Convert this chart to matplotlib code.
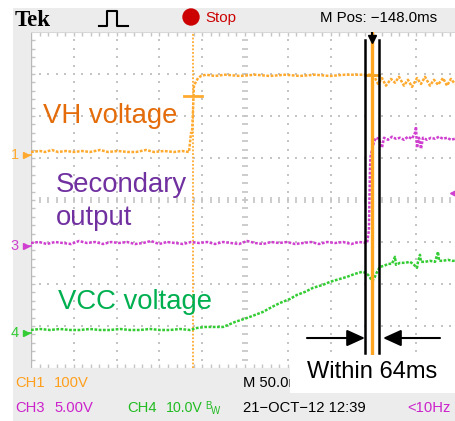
import numpy as np
import matplotlib.pyplot as plt
from matplotlib.patches import Rectangle, Ellipse
from matplotlib.lines import Line2D

W, H = 455, 421

# time in ms from left edge of screen (M 50.0ms / div)
ch1_t = [0, 10.5, 16.4, 24.5, 31.5, 40.9, 50.2, 59.6, 68.9, 80.6,
         90.0, 101.6, 113.3, 122.7, 134.3, 143.7, 155.4, 167.1, 176.4, 184.6,
         185.7, 186.9, 188.1, 189.3, 190.4, 192.8, 195.1, 198.6, 204.4, 214.9,
         226.6, 244.2, 261.7, 279.2, 296.7, 314.2, 331.8, 349.3, 366.8, 384.3,
         396.0, 400.7, 405.4, 410.0, 414.7, 420.6, 425.2, 429.9, 435.7, 440.4,
         445.1, 450.9, 455.6, 460.3, 466.1, 470.8, 475.5, 481.3, 486.0, 490.6,
         495.3]
# VH voltage (V), CH1 100V/div
ch1_v = [0, 2.4, 0, 4.8, 0, 2.4, 0, 2.4, 0, 4.8,
         0, 2.4, 0, 0, 4.8, 0, 2.4, 0, 2.4, 0,
         21.5, 45.4, 45.4, 100, 160, 167, 176, 181, 184, 181,
         184, 181, 184, 181, 184, 181, 184, 181, 184, 184,
         184, 181, 162, 176, 158, 174, 165, 179, 158, 172,
         155, 176, 162, 179, 158, 172, 160, 176, 158, 174,
         162]

ch3_t = [0, 9.3, 18.7, 28.0, 37.4, 46.7, 56.1, 65.4, 74.8, 84.1,
         93.5, 102.8, 112.2, 121.5, 130.9, 140.2, 149.6, 158.9, 168.3, 177.6,
         187.0, 196.3, 205.7, 215.0, 224.4, 233.7, 243.1, 252.4, 261.8, 271.1,
         280.5, 289.8, 299.2, 308.5, 317.9, 327.2, 336.6, 345.9, 355.3, 364.6,
         374.0, 383.3, 392.7,
         394.8, 395.4, 396.0, 396.6, 398.4, 400.7, 403.0, 406.5, 410.0, 412.4,
         417.1, 421.7, 426.4, 431.1, 435.7, 440.4, 445.1, 448.6, 449.8, 450.9,
         453.3, 455.6, 457.9, 462.6, 467.3, 472.0, 476.6, 481.3, 486.0, 490.6,
         495.3]
# secondary output (V), CH3 5.00V/div
ch3_v = [0, 0.12, -0.12, 0.12, 0, -0.12, 0.24, 0, 0.12, -0.12,
         0.12, 0, 0.12, -0.12, 0, 0.24, -0.12, 0.12, 0, -0.12,
         0.12, 0, 0.12, -0.12, 0.12, 0, -0.12, 0.24, 0, -0.12,
         0.12, 0, 0.12, -0.12, 0, 0.12, -0.12, 0.12, 0, 0.12,
         -0.12, 0.12, 0,
         1.55, 5.13, 8.71, 10.26, 11.1, 12.05, 12.53, 12.41, 11.33, 12.53,
         12.29, 12.65, 12.41, 12.53, 12.29, 12.65, 12.41, 13.12, 13.84, 11.33,
         12.53, 11.21, 12.53, 12.29, 12.53, 12.41, 12.65, 12.41, 12.53, 12.29,
         12.41]

ch4_t = [0, 10.5, 22.2, 33.9, 45.6, 57.2, 68.9, 80.6, 92.3, 104.0,
         115.7, 127.3, 139.0, 150.7, 162.4, 174.1, 185.7, 193.9, 203.3, 214.9,
         224.3, 230.1, 238.3, 252.3, 261.7, 271.0, 281.5, 290.9, 302.6, 310.7,
         320.1, 329.4, 341.0, 349.3, 361.0, 369.1, 378.5, 386.7, 391.3, 394.8,
         398.4, 400.7, 404.2, 407.7, 412.4, 417.1, 421.7, 425.2, 426.4, 431.1,
         436.9, 442.7, 446.3, 450.9, 452.1, 454.4, 455.6, 460.3, 466.1, 472.0,
         475.5, 476.6, 481.3, 487.2, 491.8, 495.3]
# VCC voltage (V), CH4 10.0V/div
ch4_v = [0, 0.24, 0, 0.24, 0, 0, 0.24, 0, 0, 0.24,
         0, 0, 0.24, 0, 0, 0.24, 0, 0.48, 0.72, 0.72,
         0.72, 1.19, 1.91, 2.86, 3.58, 4.30, 5.49, 6.44, 7.40, 8.35,
         9.07, 10.03, 10.74, 11.46, 12.17, 12.65, 13.37, 13.84, 13.61, 12.89,
         11.69, 12.17, 13.84, 15.04, 15.27, 15.75, 15.75, 17.42, 15.51, 15.99,
         15.99, 16.23, 15.75, 14.80, 16.23, 17.90, 16.23, 16.23, 16.47, 16.23,
         18.62, 16.47, 16.47, 16.71, 16.47, 16.47]

MS_DIV = 50.0
CH1_SCALE, CH3_SCALE, CH4_SCALE = 100.0, 5.0, 10.0
CH1_OFF, CH3_OFF, CH4_OFF = 1.143, -1.024, -3.095   # ground position in divs
cursor1_t, cursor1_v = 189.3, 133.0
cursor2_t, cursor2_v = 398.4, 183.0
band_t = [390.2, 406.5]
trig_v3 = 6.0

ORANGE = '#ffaa2e'
MAGENTA = '#d040d0'
GREEN = '#33cc33'
GRID = '#c4c4c4'
SANS = ['Liberation Sans', 'DejaVu Sans']


def fx(px):
    return px / W


def fy(py):
    return 1 - py / H


fig = plt.figure(figsize=(W / 100, H / 100), dpi=100)
fig.add_artist(Rectangle((fx(13), 0), 1 - fx(13), fy(8), facecolor='#ececec',
                         edgecolor='none', zorder=0))

ax = fig.add_axes([fx(31), fy(368), 428 / W, 336 / H])
ax.set_facecolor('white')
ax.set_xlim(0, 10)
ax.set_ylim(-4, 4)
ax.set_xticks([])
ax.set_yticks([])
for s in ax.spines.values():
    s.set_visible(False)

# graticule
mx = np.arange(1, 50) * 0.2
my = -4 + np.arange(1, 40) * 0.2
for gx in [1, 2, 3, 4, 6, 7, 8, 9]:
    ax.scatter(np.full(len(my), gx), my, s=1.6, marker='s', color=GRID, lw=0, zorder=1)
for gy in [-3, -2, -1, 1, 2, 3]:
    ax.scatter(mx, np.full(len(mx), gy), s=1.6, marker='s', color=GRID, lw=0, zorder=1)
ax.vlines(mx, -0.06, 0.06, color=GRID, lw=1.2, zorder=1)
ax.hlines(my, 4.93, 5.07, color=GRID, lw=1.2, zorder=1)
ax.vlines(mx, 3.91, 4.0, color=GRID, lw=1.0, zorder=1)
ax.vlines(mx, -4.0, -3.91, color=GRID, lw=1.0, zorder=1)
ax.hlines(my, 0, 0.09, color=GRID, lw=1.0, zorder=1)
ax.axvline(0, color='#b8b8b8', lw=1.0, zorder=1)
ax.axhline(4, color='#d8d8d8', lw=0.8, zorder=1)
ax.axhline(-4, color='#d8d8d8', lw=0.8, zorder=1)

# traces
dots = (0, (1.1, 0.6))
ax.plot(np.array(ch1_t) / MS_DIV, np.array(ch1_v) / CH1_SCALE + CH1_OFF,
        color=ORANGE, lw=1.8, ls=dots, zorder=3)
ax.plot(np.array(ch3_t) / MS_DIV, np.array(ch3_v) / CH3_SCALE + CH3_OFF,
        color=MAGENTA, lw=1.8, ls=dots, zorder=3)
ax.plot(np.array(ch4_t) / MS_DIV, np.array(ch4_v) / CH4_SCALE + CH4_OFF,
        color=GREEN, lw=1.8, ls=dots, zorder=3)

# cursors
ax.axvline(cursor1_t / MS_DIV, color=ORANGE, lw=1.3, ls=(0, (1, 1)), zorder=2)
c1y = cursor1_v / CH1_SCALE + CH1_OFF
ax.plot([(cursor1_t - 10.6) / MS_DIV, (cursor1_t + 10.5) / MS_DIV], [c1y, c1y],
        color=ORANGE, lw=2, zorder=4)
c2y = cursor2_v / CH1_SCALE + CH1_OFF
ax.plot([band_t[0] / MS_DIV, band_t[1] / MS_DIV], [c2y, c2y],
        color='#f0a020', lw=2, zorder=4)
ax.plot([cursor2_t / MS_DIV] * 2, [4.0, -3.64], color='#ffa51f', lw=2.4, zorder=5)
for bt in band_t:
    ax.plot([bt / MS_DIV] * 2, [3.81, -3.64], color='black', lw=1.8, zorder=5)

# trigger position marker
ax.plot([cursor2_t / MS_DIV] * 2, [4.0, 3.88], color='black', lw=1.5, zorder=6)
ax.plot(cursor2_t / MS_DIV, 3.84, marker='v', ms=6, color='black', zorder=6)
# trigger level marker (right edge)
ax.plot(9.91, trig_v3 / CH3_SCALE + CH3_OFF, marker='<', ms=7, color=MAGENTA,
        clip_on=False, zorder=6)

# arrows
ay = -3.286
hs = '-|>,head_length=0.55,head_width=0.25'
ax.annotate('', xy=(band_t[0] / MS_DIV, ay), xytext=(322.4 / MS_DIV, ay),
            arrowprops=dict(arrowstyle=hs, mutation_scale=20, lw=1.5, color='black',
                            shrinkA=0, shrinkB=0), zorder=6)
ax.annotate('', xy=(411.2 / MS_DIV, ay), xytext=(477.8 / MS_DIV, ay),
            arrowprops=dict(arrowstyle=hs, mutation_scale=20, lw=1.5, color='black',
                            shrinkA=0, shrinkB=0), zorder=6)

# channel ground markers on the left
for lab, off, col in [('1', CH1_OFF, ORANGE), ('3', CH3_OFF, MAGENTA), ('4', CH4_OFF, GREEN)]:
    ax.text(-0.38, off - 0.08, lab, color=col, fontsize=10.5, family=SANS,
            ha='center', va='center', clip_on=False)
    ax.plot([-0.17, 0.0], [off - 0.08] * 2, color=col, lw=1.2, clip_on=False, zorder=6)
    ax.plot(-0.12, off - 0.08, marker='>', ms=4.5, color=col, clip_on=False, zorder=6)

# labels
fig.text(fx(43), fy(123), 'VH voltage', color='#e46c0a', fontsize=19.8,
         family=SANS, va='baseline')
fig.text(fx(56), fy(192), 'Secondary', color='#7030a0', fontsize=19.8,
         family=SANS, va='baseline')
fig.text(fx(56), fy(225), 'output', color='#7030a0', fontsize=19.8,
         family=SANS, va='baseline')
fig.text(fx(58), fy(309), 'VCC voltage', color='#00b050', fontsize=19.8,
         family=SANS, va='baseline')

# top bar
fig.text(fx(15), fy(26), 'Tek', fontsize=16.5, family=['Liberation Serif', 'DejaVu Serif'],
         weight='bold', va='baseline')
fig.add_artist(Line2D([fx(99), fx(107), fx(107), fx(117), fx(117), fx(128)],
                      [fy(26), fy(26), fy(11), fy(11), fy(26), fy(26)],
                      color='black', lw=1.5))
fig.add_artist(Ellipse((fx(191), fy(17)), 16 / W, 16 / H, color='#cc0000'))
fig.text(fx(205), fy(22), 'Stop', color='#cc0000', fontsize=10.8, family=SANS,
         va='baseline')
fig.text(fx(320), fy(22), 'M Pos: \u2212148.0ms', fontsize=10.8, family=SANS,
         va='baseline')

# bottom bar
fs = 10.6
fig.text(fx(15), fy(387), 'CH1', color='#ff9f1c', fontsize=fs, family=SANS, va='baseline')
fig.text(fx(54), fy(387), '100V', color='#ff9f1c', fontsize=fs, family=SANS, va='baseline')
fig.text(fx(243), fy(387), 'M 50.0ms', fontsize=fs, family=SANS, va='baseline')
fig.text(fx(15), fy(412), 'CH3', color='#cc22cc', fontsize=fs, family=SANS, va='baseline')
fig.text(fx(54), fy(412), '5.00V', color='#cc22cc', fontsize=fs, family=SANS, va='baseline')
fig.text(fx(127), fy(412), 'CH4', color='#22bb22', fontsize=fs, family=SANS, va='baseline')
fig.text(fx(166), fy(412), '10.0V', color='#22bb22', fontsize=10.2, family=SANS, va='baseline')
fig.text(fx(205), fy(409), 'B', color='#22bb22', fontsize=7, family=SANS, va='baseline')
fig.text(fx(211), fy(414), 'W', color='#22bb22', fontsize=7, family=SANS, va='baseline')
fig.text(fx(243), fy(412), '21\u2212OCT\u221212 12:39', fontsize=fs, family=SANS,
         va='baseline')
fig.text(fx(407), fy(412), '<10Hz', color='#cc22cc', fontsize=fs, family=SANS,
         va='baseline')

# white box with annotation
fig.add_artist(Rectangle((fx(290), fy(393)), 1 - fx(290), (393 - 355) / H,
                         facecolor='white', edgecolor='none', zorder=8))
fig.text(fx(307), fy(378), 'Within 64ms', fontsize=17, family=SANS,
         va='baseline', zorder=9)

fig.savefig('out.png', dpi=100)
